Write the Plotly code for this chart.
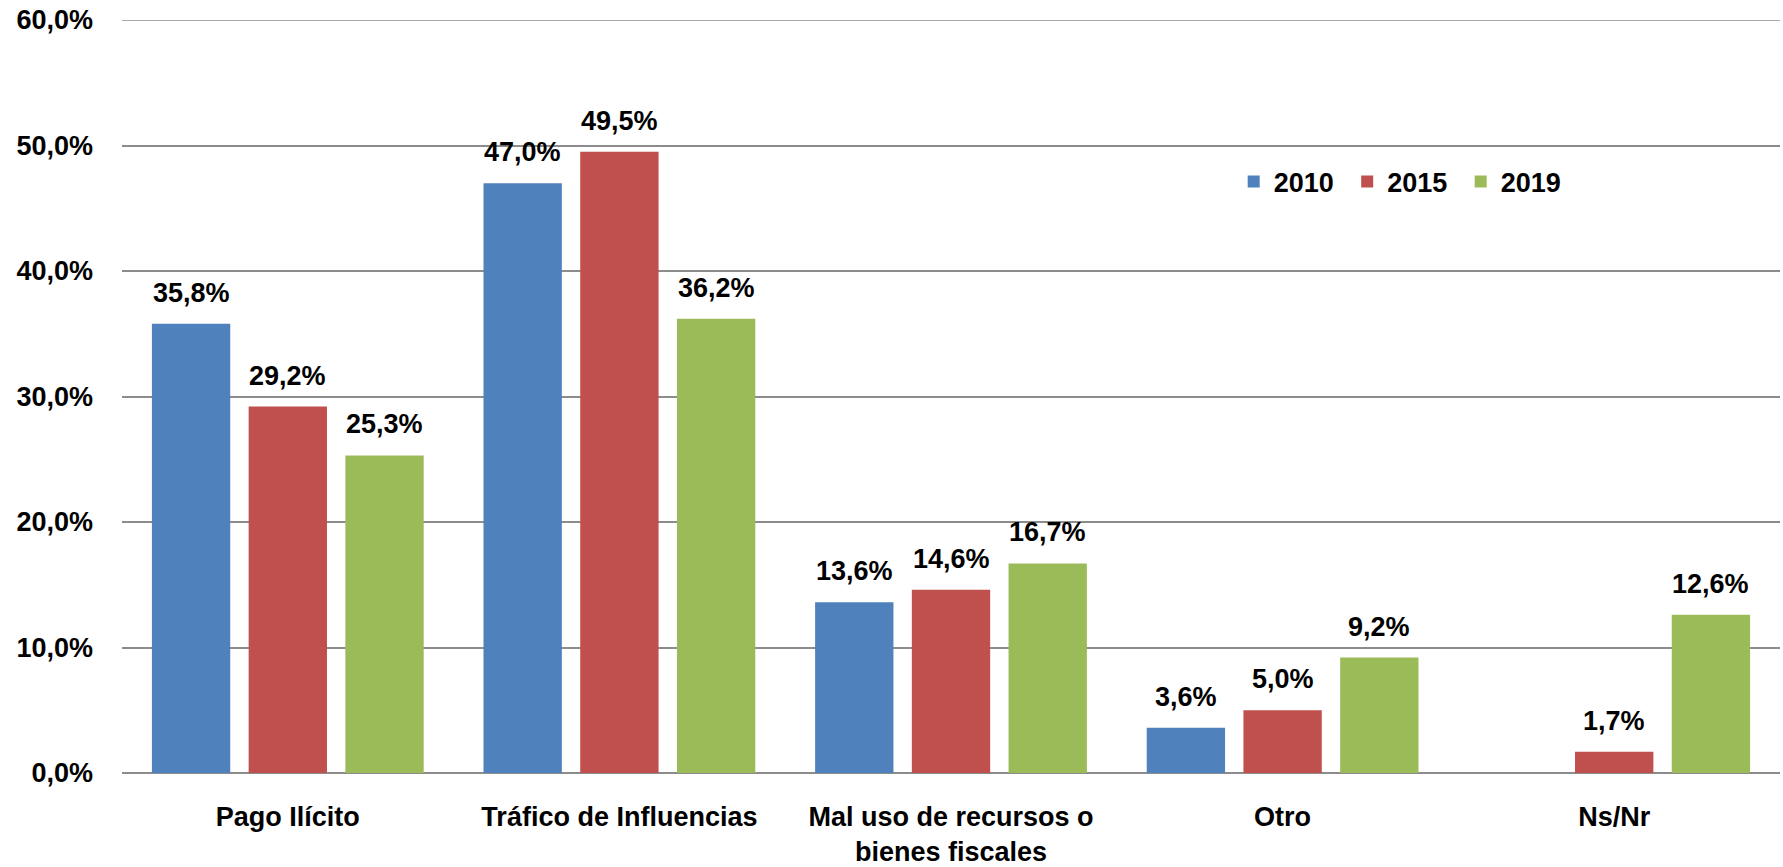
import plotly.graph_objects as go

categories = ["Pago Ilícito", "Tráfico de Influencias", "Mal uso de recursos o<br>bienes fiscales", "Otro", "Ns/Nr"]
years = ["2010", "2015", "2019"]
values_2010 = [35.8, 47.0, 13.6, 3.6, None]
values_2015 = [29.2, 49.5, 14.6, 5.0, 1.7]
values_2019 = [25.3, 36.2, 16.7, 9.2, 12.6]
colors = ["#4F81BD", "#C0504D", "#9BBB59"]
y_ticks = [0, 10, 20, 30, 40, 50, 60]

series = [values_2010, values_2015, values_2019]

W, H = 1783, 867
ML, MR, MT, MB = 122, 3, 20, 94
BARGAP = 0.125
BARGROUPGAP = 0.19
FONT = "Liberation Sans"
FS = 27
GRID = "#8C8C8C"

plot_w = W - ML - MR
slot = plot_w / len(categories) * (1 - BARGAP) / len(series)

def fmt(v):
    return f"{v:.1f}".replace(".", ",") + "%"

fig = go.Figure()
annotations = []
for i, (name, vals, col) in enumerate(zip(years, series, colors)):
    fig.add_trace(go.Bar(name=name, x=categories, y=vals, marker=dict(color=col, line=dict(width=0))))
    for c, v in zip(categories, vals):
        if v is None:
            continue
        annotations.append(dict(x=c, y=v, xref="x", yref="y", text=fmt(v), showarrow=False,
                                xshift=(i - 1) * slot, yanchor="middle", yshift=31,
                                font=dict(family=FONT, size=FS, color="#000000", weight="bold")))

fig.update_layout(
    width=W, height=H,
    margin=dict(l=ML, r=MR, t=MT, b=MB, pad=0, autoexpand=False),
    paper_bgcolor="white", plot_bgcolor="white",
    barmode="group", bargap=BARGAP, bargroupgap=BARGROUPGAP,
    separators=",.",
    font=dict(family=FONT, size=FS, color="#000000", weight="bold"),
    annotations=annotations,
    shapes=[dict(type="line", xref="paper", yref="y", x0=0, x1=1, y0=y_ticks[-1], y1=y_ticks[-1],
                 line=dict(color=GRID, width=1.5), layer="below")],
    showlegend=True,
    legend=dict(orientation="h", x=0.6705, y=0.785, xanchor="left", yanchor="middle",
                font=dict(family=FONT, size=FS, color="#000000", weight="bold"),
                bgcolor="rgba(0,0,0,0)", entrywidth=68.5, traceorder="normal"),
)
fig.update_yaxes(range=[0, 60], tickvals=y_ticks, ticktext=[fmt(t) for t in y_ticks],
                 automargin=False,
                 showgrid=True, gridcolor=GRID, gridwidth=1.5,
                 zeroline=True, zerolinecolor=GRID, zerolinewidth=2,
                 showline=False, ticks="", ticklabelstandoff=28,
                 tickfont=dict(family=FONT, size=FS, color="#000000", weight="bold"))
fig.update_xaxes(showgrid=False, showline=False, ticks="", ticklabelstandoff=25, automargin=False,
                 tickfont=dict(family=FONT, size=FS, color="#000000", weight="bold"))

fig.write_html("out.html", config={"displayModeBar": False},
               post_script="document.body.style.margin='0';document.body.style.overflow='hidden';")
